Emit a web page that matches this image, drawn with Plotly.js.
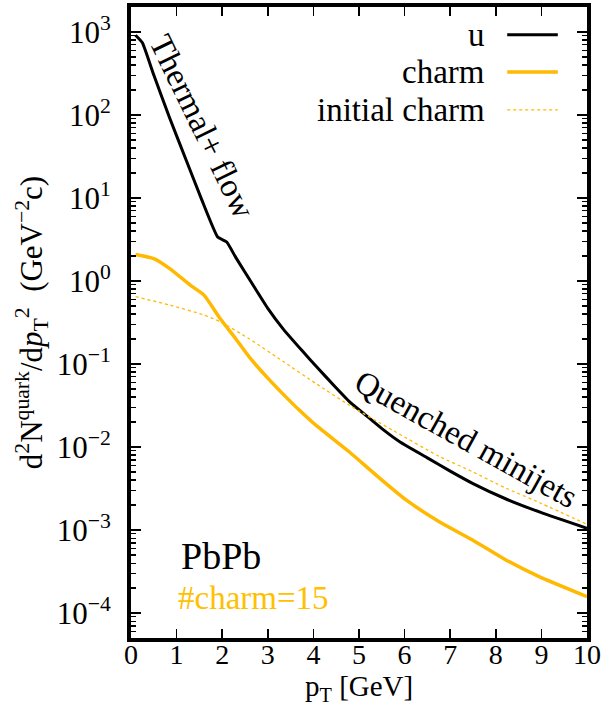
<!DOCTYPE html>
<html><head><meta charset="utf-8">
<script src="https://cdn.plot.ly/plotly-3.0.1.min.js"></script>
<style>html,body{margin:0;padding:0;background:#fff;}#chart{width:608px;height:708px;}</style>
</head><body><div id="chart"></div>
<script>
// pT [GeV] grids and spectra d2N/dpT2 (GeV^-2 c)
const ptU = [0.1,0.25,0.5,0.85,1.2,1.55,1.9,2.1,2.3,2.7,3.0,3.34,3.75,4.1,4.45,4.8,5.2,5.53,5.9,6.5,7.0,7.5,8.2,9.0,10];
const uQuark = [912,741,302,91.2,29.5,9.55,3.39,2.95,1.91,0.851,0.468,0.263,0.145,0.0891,0.0550,0.0347,0.0229,0.0162,0.0115,0.00741,0.00513,0.00363,0.00240,0.00162,0.00105];

const ptC = [0.1,0.5,0.85,1.3,1.6,1.95,2.3,2.6,3.0,3.33,3.7,4.06,4.79,5.42,6.04,6.76,7.49,8.22,8.95,10];
const charm = [2.09,1.86,1.41,0.891,0.676,0.355,0.200,0.120,0.0676,0.0437,0.0275,0.0182,0.00871,0.00437,0.00229,0.00126,7.59e-4,4.37e-4,2.75e-4,1.58e-4];

const ptIC = [0.1,0.85,1.6,1.95,2.6,3.34,4.07,4.8,5.75,6.75,7.5,8.2,9.0,10];
const initialCharm = [0.646,0.513,0.389,0.324,0.200,0.107,0.0575,0.0316,0.0158,0.00776,0.00501,0.00324,0.00209,0.00117];

const seriesNames = ['u','charm','initial charm'];
const yTickVals = [1e-4,1e-3,1e-2,1e-1,1,10,100,1000];
const yTickText = ['10<sup>−4</sup>','10<sup>−3</sup>','10<sup>−2</sup>','10<sup>−1</sup>','10<sup>0</sup>','10<sup>1</sup>','10<sup>2</sup>','10<sup>3</sup>'];
const xTitle = 'p<sub>T</sub> [GeV]';
const yTitle = 'd<sup>2</sup>N<sup>quark</sup>/d<i>p</i><sub>T</sub><sup>2</sup>  (GeV<sup>−2</sup>c)';

const FONT = 'Liberation Serif, Times New Roman, serif';
const ORANGE = '#FFB900';

const traces = [
  {x: ptU, y: uQuark, name: seriesNames[0], mode: 'lines', line: {color: 'black', width: 3, shape: 'spline', smoothing: 0.4}},
  {x: ptC, y: charm, name: seriesNames[1], mode: 'lines', line: {color: ORANGE, width: 3.5, shape: 'spline', smoothing: 0.6}},
  {x: ptIC, y: initialCharm, name: seriesNames[2], mode: 'lines', line: {color: ORANGE, width: 1.3, dash: '3px,3px', shape: 'spline', smoothing: 0.6}}
];

// legend (gnuplot style: text then sample on the right)
const legY = [0.956, 0.897, 0.837];
const legStyles = [
  {color: 'black', width: 3},
  {color: ORANGE, width: 3.5},
  {color: ORANGE, width: 1.3, dash: '3px,3px'}
];
const shapes = legY.map((y, i) => ({type: 'line', xref: 'paper', yref: 'paper', x0: 0.825, x1: 0.936, y0: y, y1: y, line: legStyles[i]}));
const annotations = legY.map((y, i) => ({xref: 'paper', yref: 'paper', x: 0.781, y: y, xanchor: 'right', yanchor: 'middle', text: seriesNames[i], showarrow: false, font: {family: FONT, size: 33, color: 'black'}}));

annotations.push(
  {xref: 'paper', yref: 'paper', x: (202-131)/456, y: (638-126)/631, text: 'Thermal+ flow', textangle: 64, showarrow: false, xanchor: 'center', yanchor: 'middle', font: {family: FONT, size: 33, color: 'black'}},
  {xref: 'paper', yref: 'paper', x: (466-131)/456, y: (638-439)/631, text: 'Quenched minijets', textangle: 29, showarrow: false, xanchor: 'center', yanchor: 'middle', font: {family: FONT, size: 33, color: 'black'}},
  {xref: 'paper', yref: 'paper', x: (221-131)/456, y: (638-556)/631, text: 'PbPb', showarrow: false, xanchor: 'center', yanchor: 'middle', font: {family: FONT, size: 38, color: 'black'}},
  {xref: 'paper', yref: 'paper', x: (253-131)/456, y: (638-598)/631, text: '#charm=15', showarrow: false, xanchor: 'center', yanchor: 'middle', font: {family: FONT, size: 33, color: '#FFC000'}},
  // x-axis title placed explicitly just under the tick labels
  {xref: 'paper', yref: 'paper', x: 0.5, y: -(708-638)/631, text: xTitle, showarrow: false, xanchor: 'center', yanchor: 'bottom', font: {family: FONT, size: 29, color: 'black'}}
);

const layout = {
  width: 608, height: 708,
  margin: {l: 131, r: 21, t: 7, b: 70},
  showlegend: false,
  paper_bgcolor: 'white', plot_bgcolor: 'white',
  font: {family: FONT, size: 30, color: 'black'},
  xaxis: {
    range: [0, 10], tickmode: 'linear', tick0: 0, dtick: 1,
    ticks: 'inside', ticklen: 9, tickwidth: 1.5, tickcolor: 'black',
    showline: true, linewidth: 4, linecolor: 'black', mirror: 'allticks',
    showgrid: false, zeroline: false,
    tickfont: {family: FONT, size: 28},
    ticklabelstandoff: -12
  },
  yaxis: {
    type: 'log', range: [-4.3, 3.3], tickmode: 'array', tickvals: yTickVals, ticktext: yTickText,
    ticks: 'inside', ticklen: 10, tickwidth: 1.5, tickcolor: 'black',
    minor: {ticks: 'inside', ticklen: 5, dtick: 'D1', tickcolor: 'black', tickwidth: 1.2, showgrid: false},
    showline: true, linewidth: 4, linecolor: 'black', mirror: 'allticks',
    showgrid: false, zeroline: false,
    tickfont: {family: FONT, size: 31},
    ticklabelstandoff: 10,
    title: {text: yTitle, font: {family: FONT, size: 31}, standoff: 6}
  },
  shapes: shapes,
  annotations: annotations
};

Plotly.newPlot('chart', traces, layout, {displayModeBar: false, staticPlot: true});
</script>
</body></html>
